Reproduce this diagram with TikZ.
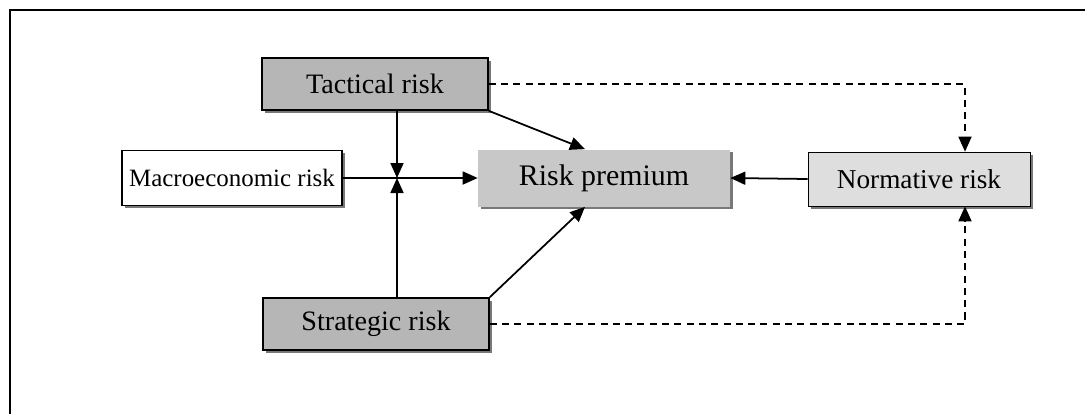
\documentclass[tikz,border=0pt]{standalone}
\usepackage{fontspec}
\setmainfont{Liberation Serif}
\usepackage{tikz}
\usetikzlibrary{positioning, arrows.meta, shadows}
\definecolor{riskdark}{RGB}{182, 182, 182}
\definecolor{riskmid}{RGB}{200, 200, 200}
\definecolor{risklight}{RGB}{222, 222, 222}
\definecolor{riskshadow}{RGB}{120, 120, 120}
\tikzset{
    riskbox/.style={rectangle, inner sep=0pt, font=\fontsize{15.5}{17}\selectfont,
        drop shadow={shadow xshift=1.5pt, shadow yshift=-1.5pt, fill=riskshadow, opacity=1}},
    darkbox/.style={riskbox, draw, line width=1pt, fill=riskdark, minimum width=4.52cm, minimum height=1.04cm,
        font=\fontsize{16}{18}\selectfont},
    whitebox/.style={riskbox, draw, line width=1pt, fill=white, minimum width=4.4cm, minimum height=1.1cm,
        font=\fontsize{14.2}{16}\selectfont},
    premiumbox/.style={riskbox, fill=riskmid, minimum width=5.04cm, minimum height=1.14cm,
        font=\fontsize{17}{19}\selectfont},
    lightbox/.style={riskbox, draw, fill=risklight, minimum width=4.44cm, minimum height=1.08cm},
    link/.style={line width=1pt, -{Triangle[length=3mm, width=2.6mm]}},
    dashlink/.style={link, dash pattern=on 4pt off 3pt}
}

\begin{document}
\begin{tikzpicture}[x=0.02cm, y=-0.02cm]
    \useasboundingbox (0,0) rectangle (1085,414);
    \draw[thick] (1085,10) -- (10,10) -- (10,414);
    % boxes
    \node[darkbox] (tactical) at (375,84) {Tactical risk};
    \node[whitebox] (macro) at (232,178) {Macroeconomic risk};
    \node[premiumbox] (premium) at (604,178) {Risk premium};
    \node[lightbox] (normative) at (919,179) {Normative risk};
    \node[darkbox] (strategic) at (376,324) {Strategic risk};
    % junction and corners
    \coordinate (junction) at (397,178);
    \coordinate (tcorner) at (965,84);
    \coordinate (scorner) at (965,324);
    % arrows
    \draw[link] (tactical.south -| junction) -- (junction);
    \draw[link] (strategic.north -| junction) -- (junction);
    \draw[link] (macro.east) -- (premium.west);
    \draw[link] (normative.west) -- (premium.east);
    \draw[link] (tactical.south east) -- ([xshift=-0.38cm]premium.north);
    \draw[link] (strategic.north east) -- ([xshift=-0.38cm]premium.south);
    \draw[dashlink] (tactical.east) -- (tcorner) -- (normative.north -| tcorner);
    \draw[dashlink] (strategic.east) -- (scorner) -- (normative.south -| scorner);
\end{tikzpicture}
\end{document}
